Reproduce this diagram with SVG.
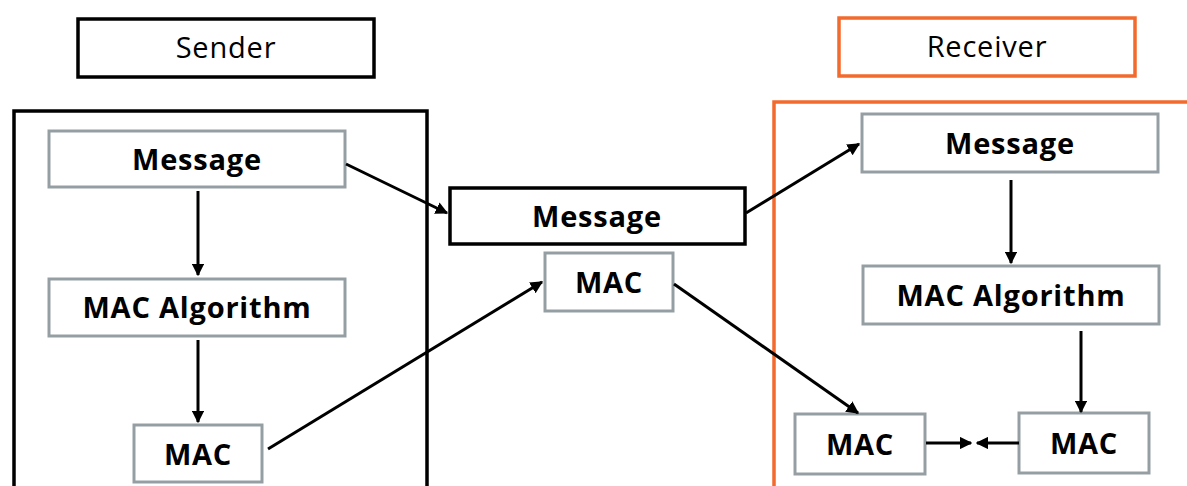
<svg xmlns="http://www.w3.org/2000/svg" width="1187" height="486" viewBox="0 0 1187 486">
<style>
.box{fill:#fff;stroke:#959fa3;stroke-width:3}
.bb{fill:#fff;stroke:#000;stroke-width:3.5}
.ob{fill:#fff;stroke:#f26a2c;stroke-width:3.5}
.t{font-family:"Open Sans","Liberation Sans",sans-serif;font-weight:bold;font-size:29px;letter-spacing:0.8px;fill:#000;text-anchor:middle}
.h{font-family:"Open Sans","Liberation Sans",sans-serif;font-size:29px;letter-spacing:0.8px;fill:#000;text-anchor:middle}
.c{stroke:#000;stroke-width:3;fill:none;marker-end:url(#ah)}
</style>
<defs>
<marker id="ah" viewBox="0 0 10 10" refX="9" refY="5" markerWidth="4.2" markerHeight="4.2" orient="auto" markerUnits="strokeWidth">
<path d="M0,0 L10,5 L0,10 z" fill="#000"/>
</marker>
</defs>
<rect width="1187" height="486" fill="#fff"/>
<g id="sender-label"><rect class="bb" x="78" y="19" width="296" height="58"/><text class="h" x="226" y="58">Sender</text></g>
<g id="receiver-label"><rect class="ob" x="839" y="18" width="296" height="58"/><text class="h" x="987" y="57">Receiver</text></g>
<g id="sender-container"><path d="M14,490 V111 H427 V490" fill="none" stroke="#000" stroke-width="3.5"/></g>
<g id="receiver-container"><path d="M774,490 V102 H1190" fill="none" stroke="#f26a2c" stroke-width="3.5"/></g>
<g id="s-message"><rect class="box" x="49" y="131" width="296" height="56"/><text class="t" x="197" y="170">Message</text></g>
<g id="s-macalg"><rect class="box" x="49" y="279" width="296" height="57"/><text class="t" x="197" y="318">MAC Algorithm</text></g>
<g id="s-mac"><rect class="box" x="134" y="425" width="128" height="57"/><text class="t" x="198" y="465">MAC</text></g>
<g id="m-message"><rect class="bb" x="450" y="188" width="295" height="56"/><text class="t" x="597" y="227">Message</text></g>
<g id="m-mac"><rect class="box" x="545" y="253" width="128" height="58"/><text class="t" x="609" y="293">MAC</text></g>
<g id="r-message"><rect class="box" x="862" y="114" width="296" height="58"/><text class="t" x="1010" y="154">Message</text></g>
<g id="r-macalg"><rect class="box" x="863" y="266" width="296" height="58"/><text class="t" x="1011" y="306">MAC Algorithm</text></g>
<g id="r-mac1"><rect class="box" x="795" y="414" width="130" height="60"/><text class="t" x="860" y="455">MAC</text></g>
<g id="r-mac2"><rect class="box" x="1019" y="413" width="130" height="60"/><text class="t" x="1084" y="454">MAC</text></g>
<g id="connectors">
<line class="c" x1="198" y1="191" x2="198" y2="275"/>
<line class="c" x1="198" y1="340" x2="198" y2="422"/>
<line class="c" x1="346" y1="164" x2="447" y2="213"/>
<line class="c" x1="268" y1="449" x2="542" y2="282"/>
<line class="c" x1="746" y1="213" x2="859" y2="144"/>
<line class="c" x1="674" y1="284" x2="858" y2="413"/>
<line class="c" x1="1011" y1="180" x2="1011" y2="263"/>
<line class="c" x1="1081" y1="331" x2="1081" y2="412"/>
<line class="c" x1="926" y1="443" x2="971" y2="443"/>
<line class="c" x1="1019" y1="443" x2="977" y2="443"/>
</g>
</svg>
